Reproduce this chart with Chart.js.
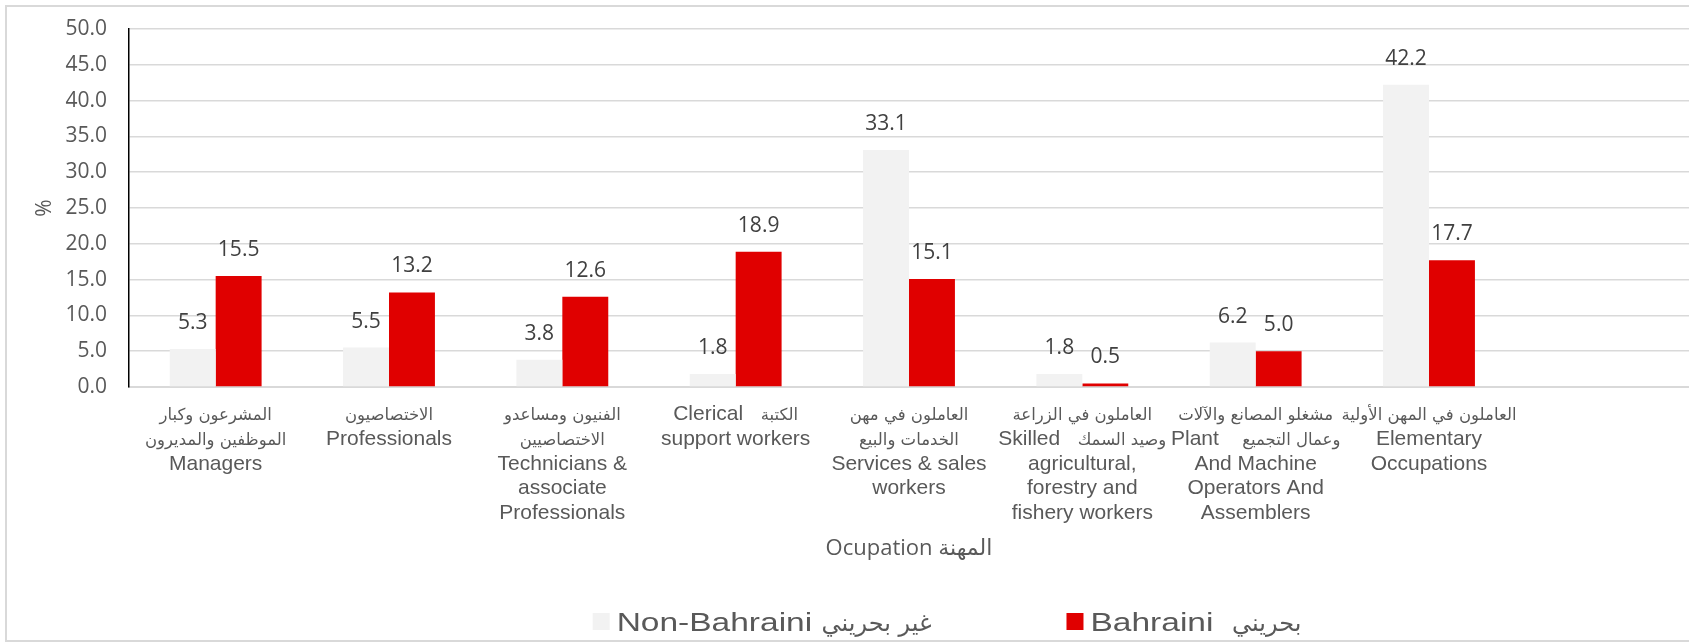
<!DOCTYPE html>
<html>
<head>
<meta charset="utf-8">
<script src="https://cdn.jsdelivr.net/npm/chart.js@4/dist/chart.umd.min.js"></script>
<style>
  html, body { margin: 0; padding: 0; background: #ffffff; }
  #wrap { position: absolute; left: 0; top: 0; width: 1689px; height: 643px; }
</style>
</head>
<body>
<div id="wrap"><canvas id="c" width="1689" height="643"></canvas></div>
<script>
// ---- data ----
const categories = [
  ['المشرعون وكبار', 'الموظفين والمديرون', 'Managers'],
  ['الاختصاصيون', 'Professionals'],
  ['الفنيون ومساعدو', 'الاختصاصيين', 'Technicians &', 'associate', 'Professionals'],
  ['Clerical   الكتبة', 'support workers'],
  ['العاملون في مهن', 'الخدمات والبيع', 'Services & sales', 'workers'],
  ['العاملون في الزراعة', 'Skilled   وصيد السمك', 'agricultural,', 'forestry and', 'fishery workers'],
  ['مشغلو المصانع والآلات', 'Plant    وعمال التجميع', 'And Machine', 'Operators And', 'Assemblers'],
  ['العاملون في المهن الأولية', 'Elementary', 'Occupations'],
  ''
];
const nonBahraini = [5.3, 5.5, 3.8, 1.8, 33.1, 1.8, 6.2, 42.2, null];
const bahraini    = [15.5, 13.2, 12.6, 18.9, 15.1, 0.5, 5.0, 17.7, null];
const seriesNames = ['Non-Bahraini غير بحريني', 'Bahraini  بحريني'];
const yTitle = '%';
const xTitle = 'Ocupation المهنة';
const yMin = 0, yMax = 50, yStep = 5;

// ---- helpers ----
const AR = /[\u0600-\u06FF]/;
const LATIN_FONT = "'Liberation Sans', Arial, 'DejaVu Sans', sans-serif";
const ARABIC_FONT = "'DejaVu Sans', sans-serif";

// ---- plugins ----
const frame = {
  id: 'frame',
  beforeDraw(chart) {
    const ctx = chart.ctx;
    ctx.save();
    ctx.fillStyle = '#ffffff';
    ctx.fillRect(0, 0, chart.width, chart.height);
    ctx.strokeStyle = '#d9d9d9';
    ctx.lineWidth = 2;
    ctx.beginPath();
    ctx.moveTo(chart.width + 5, 6);
    ctx.lineTo(6, 6);
    ctx.lineTo(6, 641);
    ctx.lineTo(chart.width + 5, 641);
    ctx.stroke();
    ctx.restore();
  }
};

const valueLabels = {
  id: 'valueLabels',
  afterDatasetsDraw(chart) {
    const ctx = chart.ctx;
    ctx.save();
    ctx.font = "21px 'Open Sans', 'DejaVu Sans', sans-serif";
    ctx.fillStyle = '#404040';
    ctx.textAlign = 'center';
    ctx.textBaseline = 'middle';
    chart.data.datasets.forEach((ds, i) => {
      const meta = chart.getDatasetMeta(i);
      meta.data.forEach((bar, j) => {
        const v = ds.data[j];
        if (v === null || v === undefined) return;
        ctx.fillText(v.toFixed(1), bar.x, bar.y - 26);
      });
    });
    ctx.restore();
  }
};

// category labels: Latin and Arabic parts drawn in their own sizes
const categoryLabels = {
  id: 'categoryLabels',
  afterDraw(chart) {
    const ctx = chart.ctx;
    const xs = chart.scales.x;
    const latin = '21px ' + LATIN_FONT, arabic = '16.5px ' + ARABIC_FONT;
    const firstBase = xs.top + 33, step = 24.8;
    ctx.save();
    ctx.fillStyle = '#595959';
    ctx.textAlign = 'left';
    ctx.textBaseline = 'alphabetic';
    chart.data.labels.forEach((lab, i) => {
      const lines = Array.isArray(lab) ? lab : [lab];
      const cx = xs.getPixelForTick(i);
      lines.forEach((line, k) => {
        const parts = line.split(/(\s{3,})/).filter(p => p.length);
        const segs = parts.map(p => {
          ctx.font = AR.test(p) ? arabic : latin;
          return { t: p, f: ctx.font, w: ctx.measureText(p).width };
        });
        const total = segs.reduce((a, s) => a + s.w, 0);
        let x = cx - total / 2;
        const y = firstBase + k * step;
        segs.forEach(s => {
          if (s.t.trim().length) { ctx.font = s.f; ctx.fillText(s.t, x, y); }
          x += s.w;
        });
      });
    });
    ctx.restore();
  }
};

const customLegend = {
  id: 'customLegend',
  afterDraw(chart) {
    const ctx = chart.ctx;
    ctx.save();
    const sx = 1.34, box = 17, boxGap = 7, itemGap = 135;
    const latin = '25px ' + LATIN_FONT, arabic = '24px ' + ARABIC_FONT;
    const items = chart.data.datasets.map(ds => {
      const m = ds.label.match(/^([^\u0600-\u06FF]*?)(\s+)([\u0600-\u06FF].*)$/);
      ctx.font = latin;
      const lw = ctx.measureText(m[1]).width * sx;
      const sw = ctx.measureText(m[2]).width * sx;
      ctx.font = arabic;
      const aw = ctx.measureText(m[3]).width;
      return { latin: m[1], arabic: m[3], lw, sw, aw, color: ds.backgroundColor, w: box + boxGap + lw + sw + aw };
    });
    const total = items.reduce((a, it) => a + it.w, 0) + itemGap * (items.length - 1);
    const ca = chart.chartArea;
    let x = (ca.left + ca.right) / 2 + 38 - total / 2;
    const base = 631;
    items.forEach(it => {
      ctx.fillStyle = it.color;
      ctx.fillRect(x, base - 18, box, box);
      x += box + boxGap;
      ctx.fillStyle = '#595959';
      ctx.textAlign = 'left';
      ctx.textBaseline = 'alphabetic';
      ctx.save();
      ctx.translate(x, base);
      ctx.scale(sx, 1);
      ctx.font = latin;
      ctx.fillText(it.latin, 0, 0);
      ctx.restore();
      x += it.lw + it.sw;
      ctx.font = arabic;
      ctx.fillText(it.arabic, x, base);
      x += it.aw + itemGap;
    });
    ctx.restore();
  }
};

new Chart(document.getElementById('c'), {
  type: 'bar',
  data: {
    labels: categories,
    datasets: [
      { label: seriesNames[0], data: nonBahraini, backgroundColor: '#f2f2f2', borderWidth: 0 },
      { label: seriesNames[1], data: bahraini, backgroundColor: '#e00000', borderWidth: 0 }
    ]
  },
  options: {
    responsive: false,
    animation: false,
    devicePixelRatio: 1,
    layout: { padding: { left: 10, right: 0, top: 29, bottom: 73 } },
    datasets: { bar: { categoryPercentage: 0.53, barPercentage: 1.0 } },
    plugins: {
      legend: { display: false },
      tooltip: { enabled: false }
    },
    scales: {
      x: {
        grid: { display: false },
        border: { display: true, color: '#d9d9d9', width: 2 },
        ticks: { display: false, autoSkip: false, maxRotation: 0 },
        title: {
          display: true, text: xTitle, color: '#595959',
          font: { family: "'Open Sans', 'DejaVu Sans', sans-serif", size: 22 },
          padding: { top: 4, bottom: 8 }
        },
        afterFit(scale) { scale.height = 183; }
      },
      y: {
        min: yMin, max: yMax,
        ticks: {
          stepSize: yStep,
          padding: 0,
          color: '#595959',
          font: { family: "'Open Sans', 'DejaVu Sans', sans-serif", size: 21 },
          callback: v => Number(v).toFixed(1)
        },
        grid: { color: '#d9d9d9', lineWidth: 1.5, drawTicks: true, tickLength: 22, tickColor: 'rgba(0,0,0,0)' },
        border: { display: true, color: '#000000', width: 1.5 },
        title: {
          display: true, text: yTitle, color: '#595959',
          font: { family: "'Open Sans', 'DejaVu Sans', sans-serif", size: 21 },
          padding: { top: 22, bottom: 0 }
        },
        afterFit(scale) { scale.width = 119; }
      }
    }
  },
  plugins: [frame, valueLabels, categoryLabels, customLegend]
});
</script>
</body>
</html>
